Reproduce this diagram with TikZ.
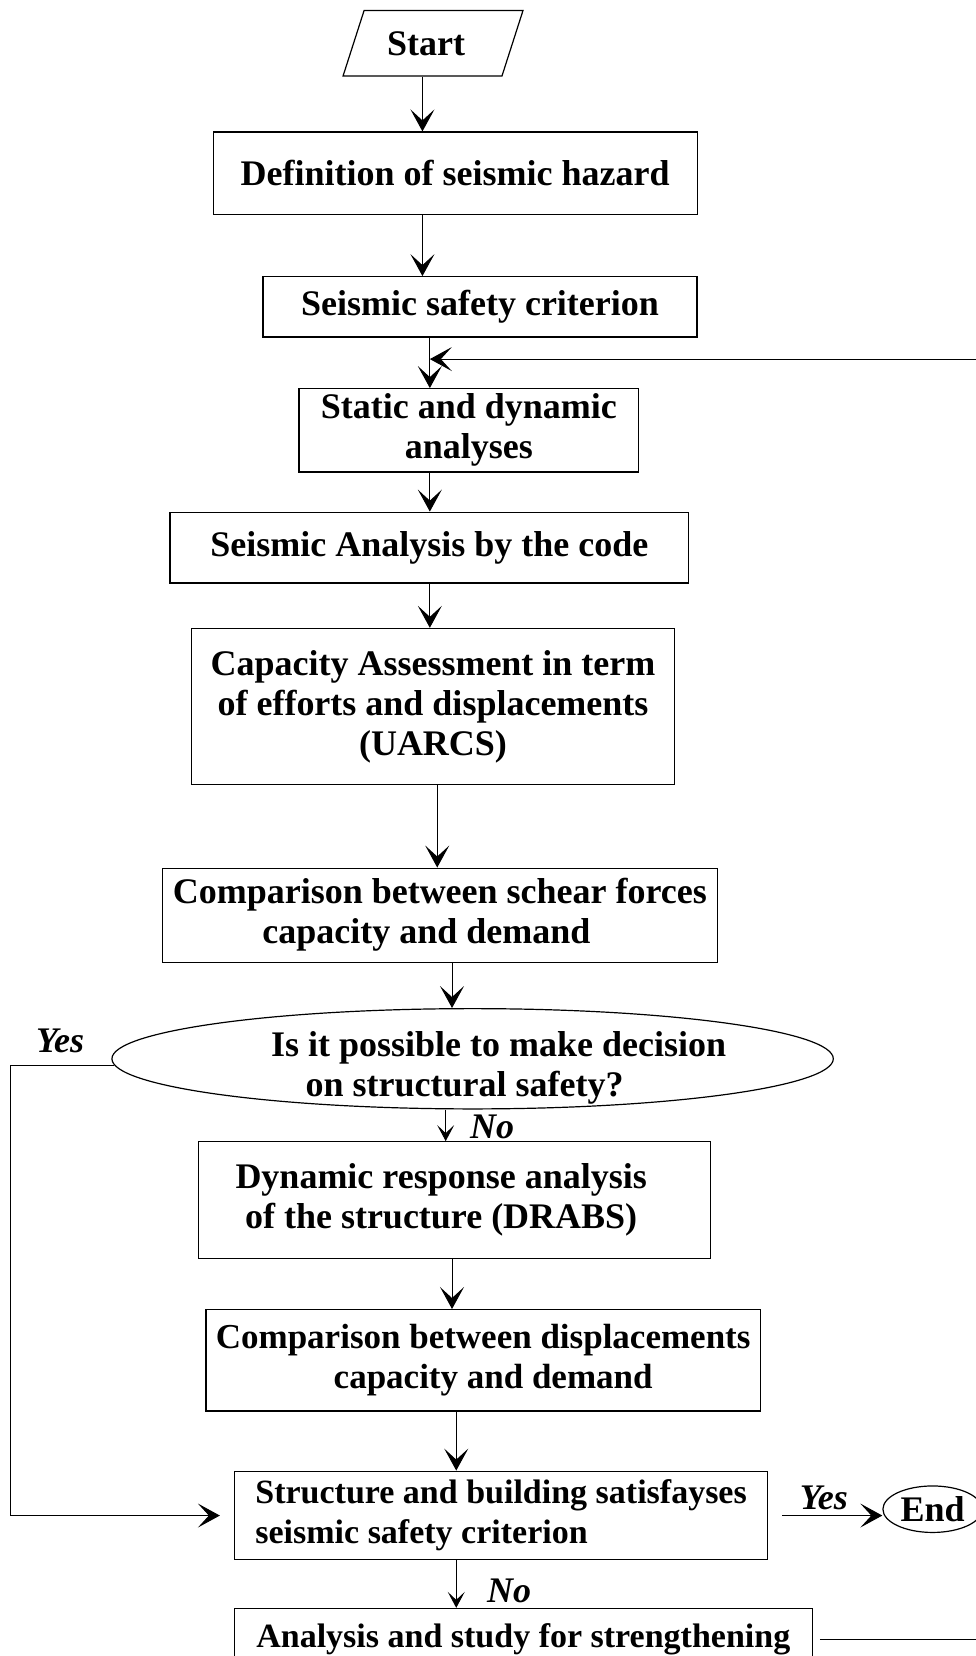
\documentclass[tikz,border=0pt]{standalone}
\usepackage{fontspec}
\setmainfont{Liberation Serif}
\usetikzlibrary{shapes.geometric,arrows.meta}

\tikzset{
  box/.style={draw, line width=1.2pt, rectangle, align=center, inner sep=2pt,
    font=\bfseries\fontsize{36}{40}\selectfont},
  txt/.style={align=center, inner sep=0pt, font=\bfseries\fontsize{36}{40}\selectfont},
  arr/.style={line width=1pt, -{Stealth[length=22pt,width=24pt,inset=11pt]}},
  sarr/.style={line width=1pt, -{Stealth[length=16pt,width=17pt,inset=8pt]}},
  lbl/.style={inner sep=0pt, font=\bfseries\itshape\fontsize{36}{40}\selectfont},
}

\begin{document}
\begin{tikzpicture}[x=1.0563pt,y=-1.0563pt]
    \useasboundingbox (0,0) rectangle (924,1568);
    \clip (0,0) rectangle (924,1568);

    % arrow columns
    \coordinate (a1) at (400,0); \coordinate (a2) at (407,0);
    \coordinate (a3) at (414,0); \coordinate (a4) at (428,0);
    \coordinate (a5) at (422,0); \coordinate (a6) at (432,0);
    \coordinate (lft) at (10,1200); \coordinate (rgt) at (960,0);
    \coordinate (fb) at (407,340);

    \node[draw, line width=1.2pt, trapezium, trapezium left angle=64, trapezium right angle=116,
      trapezium stretches=true, minimum width=180pt, minimum height=65.5pt,
      font=\bfseries\fontsize{36}{40}\selectfont] (start) at (410,41) {Start\hspace*{14pt}};
    \node[box, minimum width=484pt, minimum height=82.4pt] (def) at (431,164) {Definition of seismic hazard};
    \node[box, minimum width=434pt, minimum height=60.2pt] (safe) at (454.5,290.5) {Seismic safety criterion};
    \node[box, minimum width=340pt, minimum height=83.4pt] (stat) at (444,407.5) {Static and dynamic\\analyses};
    \node[box, minimum width=518.6pt, minimum height=70.8pt] (code) at (406.5,518.5) {Seismic Analysis by the code};
    \node[box, minimum width=483.8pt, minimum height=156.3pt] (cap) at (410,669)
      {Capacity Assessment in term\\of efforts and displacements\\(UARCS)};
    \node[box, minimum width=554.6pt, minimum height=94pt] (shear) at (416.5,866.5)
      {Comparison between schear forces\\capacity and demand\hspace*{27pt}};
    \node[draw, line width=1.2pt, ellipse, minimum width=721.5pt, minimum height=100.3pt] (ell) at (447.5,1002.5) {};
    \node[txt] (elltxt) at (440,1011) {\hspace*{68pt}Is it possible to make decision\\on structural safety?};
    \node[box, minimum width=512.3pt, minimum height=117.2pt] (drabs) at (430.5,1136.5)
      {Dynamic response analysis\hspace*{27pt}\\of the structure (DRABS)\hspace*{27pt}};
    \node[box, minimum width=554.6pt, minimum height=101.4pt, font=\bfseries\fontsize{35}{40}\selectfont]
      (disp) at (457.5,1288) {Comparison between displacements\\\hspace*{20pt}capacity and demand};
    \node[box, align=left, minimum width=533.4pt, minimum height=88.7pt, font=\bfseries\fontsize{34}{40}\selectfont]
      (sat) at (474.5,1435) {Structure and building satisfayses\\seismic safety criterion};
    \node[draw, line width=1.2pt, ellipse, inner sep=0pt, minimum width=99.3pt, minimum height=46.5pt,
      font=\bfseries\fontsize{36}{40}\selectfont] (endn) at (883,1429) {End};
    \node[box, minimum width=577.8pt, minimum height=61.3pt, font=\bfseries\fontsize{34}{40}\selectfont]
      (str) at (495.5,1552) {Analysis and study for strengthening};

    \draw[arr] (start.south -| a1) -- (def.north -| a1);
    \draw[arr] (def.south -| a1) -- (safe.north -| a1);
    \draw[arr] (safe.south -| a2) -- (stat.north -| a2);
    \draw[arr] (stat.south -| a2) -- (code.north -| a2);
    \draw[arr] (code.south -| a2) -- (cap.north -| a2);
    \draw[arr] (cap.south -| a3) -- (shear.north -| a3);
    \draw[arr] (shear.south -| a4) -- (ell.north -| a4);
    \draw[sarr] (ell.south -| a5) -- (drabs.north -| a5);
    \draw[arr] (drabs.south -| a4) -- (disp.north -| a4);
    \draw[arr] (disp.south -| a6) -- (sat.north -| a6);
    \draw[sarr] (sat.south -| a6) -- (str.north -| a6);
    \draw[arr] ([xshift=14pt]sat.east) -- (endn.west |- sat.east);
    \draw[arr] (ell.181.5) -| (lft) |- ([xshift=-14pt]sat.west); % Yes branch
    \draw[arr] ([xshift=7pt]str.east) -| (rgt |- fb) -- (fb); % back to analyses

    \node[lbl] (yes1) at (57,986) {Yes};
    \node[lbl] (no1) at (466,1067) {No};
    \node[lbl] (yes2) at (780,1418) {Yes};
    \node[lbl] (no2) at (482,1506) {No};
\end{tikzpicture}
\end{document}
